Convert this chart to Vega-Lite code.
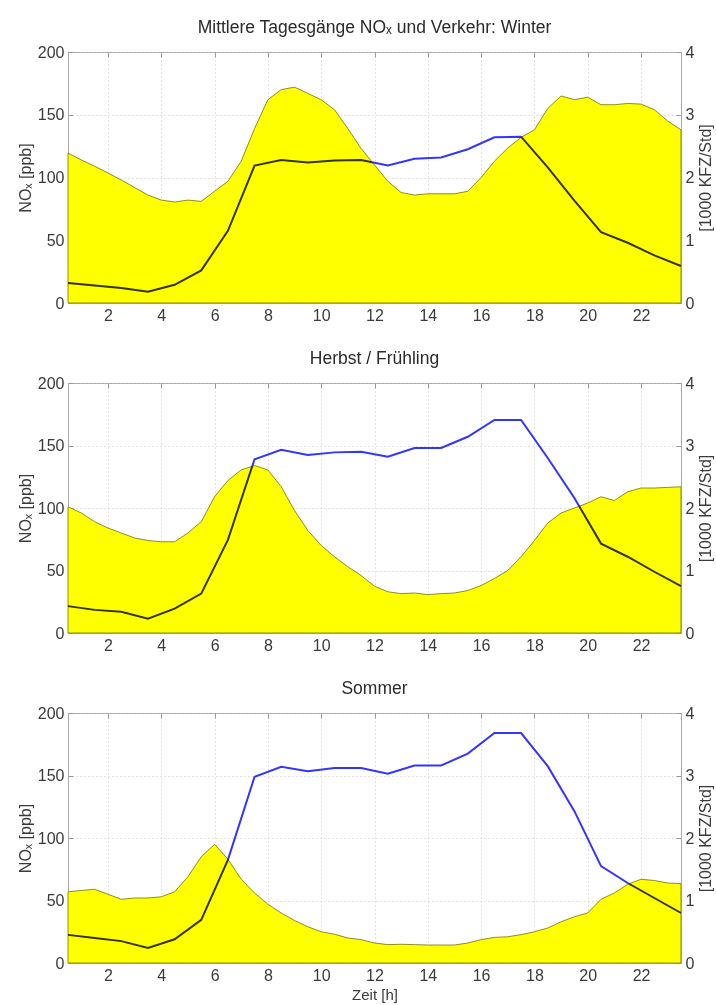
{
"$schema": "https://vega.github.io/schema/vega-lite/v6.json",
"background": "white",
"padding": {"left": 16, "top": 18, "right": 0, "bottom": 0},
"spacing": 25,
"config": {
  "font": "Liberation Sans",
  "view": {"stroke": "#a8a8a8", "strokeWidth": 1},
  "axis": {"labelFont": "Liberation Sans", "labelFontSize": 16, "labelColor": "#3a3a3a", "titleFont": "Liberation Sans", "titleFontSize": 16, "titleFontWeight": "normal", "titleColor": "#3a3a3a", "domainColor": "#a8a8a8", "tickColor": "#999999", "gridColor": "#c4c4c4", "gridDash": [1, 3], "gridWidth": 1, "tickSize": -5, "labelPadding": 9},
  "title": {"font": "Liberation Sans", "fontSize": 17.5, "fontWeight": "normal", "color": "#2a2a2a", "offset": 8}
},
"datasets": {
  "nox": [
    {"s":"W","h":0.5,"v":119.5},{"s":"W","h":1,"v":114},{"s":"W","h":1.5,"v":109},{"s":"W","h":2,"v":103.6},{"s":"W","h":2.5,"v":98},{"s":"W","h":3,"v":92},{"s":"W","h":3.5,"v":86},{"s":"W","h":4,"v":82},{"s":"W","h":4.5,"v":80.5},{"s":"W","h":5,"v":82},{"s":"W","h":5.5,"v":81},{"s":"W","h":6,"v":89},{"s":"W","h":6.5,"v":97},{"s":"W","h":7,"v":113},{"s":"W","h":7.5,"v":139},{"s":"W","h":8,"v":162},{"s":"W","h":8.5,"v":170},{"s":"W","h":9,"v":172},{"s":"W","h":9.5,"v":167},{"s":"W","h":10,"v":162},{"s":"W","h":10.5,"v":154},{"s":"W","h":11,"v":139},{"s":"W","h":11.5,"v":123},{"s":"W","h":12,"v":110},{"s":"W","h":12.5,"v":97},{"s":"W","h":13,"v":88},{"s":"W","h":13.5,"v":86},{"s":"W","h":14,"v":87},{"s":"W","h":14.5,"v":87},{"s":"W","h":15,"v":87},{"s":"W","h":15.5,"v":89},{"s":"W","h":16,"v":100},{"s":"W","h":16.5,"v":113},{"s":"W","h":17,"v":123.5},{"s":"W","h":17.5,"v":132},{"s":"W","h":18,"v":138},{"s":"W","h":18.5,"v":155},{"s":"W","h":19,"v":165},{"s":"W","h":19.5,"v":162},{"s":"W","h":20,"v":164},{"s":"W","h":20.5,"v":158},{"s":"W","h":21,"v":158},{"s":"W","h":21.5,"v":159},{"s":"W","h":22,"v":158.5},{"s":"W","h":22.5,"v":154},{"s":"W","h":23,"v":145},{"s":"W","h":23.5,"v":138},
    {"s":"H","h":0.5,"v":101},{"s":"H","h":1,"v":96},{"s":"H","h":1.5,"v":89},{"s":"H","h":2,"v":84},{"s":"H","h":2.5,"v":80},{"s":"H","h":3,"v":76},{"s":"H","h":3.5,"v":74},{"s":"H","h":4,"v":73},{"s":"H","h":4.5,"v":73},{"s":"H","h":5,"v":80},{"s":"H","h":5.5,"v":89},{"s":"H","h":6,"v":109},{"s":"H","h":6.5,"v":122},{"s":"H","h":7,"v":130.5},{"s":"H","h":7.5,"v":134},{"s":"H","h":8,"v":130.5},{"s":"H","h":8.5,"v":117},{"s":"H","h":9,"v":98},{"s":"H","h":9.5,"v":82},{"s":"H","h":10,"v":70},{"s":"H","h":10.5,"v":61},{"s":"H","h":11,"v":53},{"s":"H","h":11.5,"v":46},{"s":"H","h":12,"v":37.4},{"s":"H","h":12.5,"v":33},{"s":"H","h":13,"v":31.5},{"s":"H","h":13.5,"v":32},{"s":"H","h":14,"v":30.7},{"s":"H","h":14.5,"v":31.5},{"s":"H","h":15,"v":32},{"s":"H","h":15.5,"v":34},{"s":"H","h":16,"v":38},{"s":"H","h":16.5,"v":43.6},{"s":"H","h":17,"v":50},{"s":"H","h":17.5,"v":61},{"s":"H","h":18,"v":74},{"s":"H","h":18.5,"v":88},{"s":"H","h":19,"v":96},{"s":"H","h":19.5,"v":100},{"s":"H","h":20,"v":104},{"s":"H","h":20.5,"v":109},{"s":"H","h":21,"v":106},{"s":"H","h":21.5,"v":113},{"s":"H","h":22,"v":116},{"s":"H","h":22.5,"v":116},{"s":"H","h":23,"v":116.5},{"s":"H","h":23.5,"v":117},
    {"s":"S","h":0.5,"v":57},{"s":"S","h":1,"v":58},{"s":"S","h":1.5,"v":59},{"s":"S","h":2,"v":55},{"s":"S","h":2.5,"v":51},{"s":"S","h":3,"v":52},{"s":"S","h":3.5,"v":52},{"s":"S","h":4,"v":53},{"s":"S","h":4.5,"v":57},{"s":"S","h":5,"v":69},{"s":"S","h":5.5,"v":85},{"s":"S","h":6,"v":95},{"s":"S","h":6.5,"v":83},{"s":"S","h":7,"v":67},{"s":"S","h":7.5,"v":56},{"s":"S","h":8,"v":47},{"s":"S","h":8.5,"v":40},{"s":"S","h":9,"v":34},{"s":"S","h":9.5,"v":29},{"s":"S","h":10,"v":25},{"s":"S","h":10.5,"v":23},{"s":"S","h":11,"v":20},{"s":"S","h":11.5,"v":18.7},{"s":"S","h":12,"v":16},{"s":"S","h":12.5,"v":14.7},{"s":"S","h":13,"v":15},{"s":"S","h":13.5,"v":14.7},{"s":"S","h":14,"v":14.4},{"s":"S","h":14.5,"v":14.4},{"s":"S","h":15,"v":14.4},{"s":"S","h":15.5,"v":16},{"s":"S","h":16,"v":18.7},{"s":"S","h":16.5,"v":20.5},{"s":"S","h":17,"v":21},{"s":"S","h":17.5,"v":22.7},{"s":"S","h":18,"v":25},{"s":"S","h":18.5,"v":28},{"s":"S","h":19,"v":33},{"s":"S","h":19.5,"v":37},{"s":"S","h":20,"v":40},{"s":"S","h":20.5,"v":51},{"s":"S","h":21,"v":56},{"s":"S","h":21.5,"v":63},{"s":"S","h":22,"v":67},{"s":"S","h":22.5,"v":66},{"s":"S","h":23,"v":64},{"s":"S","h":23.5,"v":63.5}
  ],
  "kfz": [
    {"s":"W","h":0.5,"k":0.32},{"s":"W","h":1.5,"k":0.28},{"s":"W","h":2.5,"k":0.24},{"s":"W","h":3.5,"k":0.18},{"s":"W","h":4.5,"k":0.29},{"s":"W","h":5.5,"k":0.52},{"s":"W","h":6.5,"k":1.15},{"s":"W","h":7.5,"k":2.19},{"s":"W","h":8.5,"k":2.28},{"s":"W","h":9.5,"k":2.24},{"s":"W","h":10.5,"k":2.27},{"s":"W","h":11.5,"k":2.28},{"s":"W","h":12.5,"k":2.19},{"s":"W","h":13.5,"k":2.3},{"s":"W","h":14.5,"k":2.32},{"s":"W","h":15.5,"k":2.45},{"s":"W","h":16.5,"k":2.64},{"s":"W","h":17.5,"k":2.65},{"s":"W","h":18.5,"k":2.16},{"s":"W","h":19.5,"k":1.63},{"s":"W","h":20.5,"k":1.13},{"s":"W","h":21.5,"k":0.96},{"s":"W","h":22.5,"k":0.76},{"s":"W","h":23.5,"k":0.59},
    {"s":"H","h":0.5,"k":0.43},{"s":"H","h":1.5,"k":0.37},{"s":"H","h":2.5,"k":0.34},{"s":"H","h":3.5,"k":0.23},{"s":"H","h":4.5,"k":0.39},{"s":"H","h":5.5,"k":0.63},{"s":"H","h":6.5,"k":1.49},{"s":"H","h":7.5,"k":2.78},{"s":"H","h":8.5,"k":2.93},{"s":"H","h":9.5,"k":2.85},{"s":"H","h":10.5,"k":2.89},{"s":"H","h":11.5,"k":2.9},{"s":"H","h":12.5,"k":2.82},{"s":"H","h":13.5,"k":2.96},{"s":"H","h":14.5,"k":2.96},{"s":"H","h":15.5,"k":3.14},{"s":"H","h":16.5,"k":3.41},{"s":"H","h":17.5,"k":3.41},{"s":"H","h":18.5,"k":2.8},{"s":"H","h":19.5,"k":2.16},{"s":"H","h":20.5,"k":1.43},{"s":"H","h":21.5,"k":1.22},{"s":"H","h":22.5,"k":0.98},{"s":"H","h":23.5,"k":0.75},
    {"s":"S","h":0.5,"k":0.45},{"s":"S","h":1.5,"k":0.4},{"s":"S","h":2.5,"k":0.35},{"s":"S","h":3.5,"k":0.24},{"s":"S","h":4.5,"k":0.38},{"s":"S","h":5.5,"k":0.69},{"s":"S","h":6.5,"k":1.65},{"s":"S","h":7.5,"k":2.98},{"s":"S","h":8.5,"k":3.14},{"s":"S","h":9.5,"k":3.07},{"s":"S","h":10.5,"k":3.12},{"s":"S","h":11.5,"k":3.12},{"s":"S","h":12.5,"k":3.03},{"s":"S","h":13.5,"k":3.16},{"s":"S","h":14.5,"k":3.16},{"s":"S","h":15.5,"k":3.35},{"s":"S","h":16.5,"k":3.68},{"s":"S","h":17.5,"k":3.68},{"s":"S","h":18.5,"k":3.15},{"s":"S","h":19.5,"k":2.43},{"s":"S","h":20.5,"k":1.55},{"s":"S","h":21.5,"k":1.28},{"s":"S","h":22.5,"k":1.04},{"s":"S","h":23.5,"k":0.8}
  ]
},
"vconcat": [
  {
    "width": 613, "height": 251,
    "title": {"text": "Mittlere Tagesgänge NOₓ und Verkehr: Winter"},
    "layer": [
      {"data": {"name": "nox"}, "transform": [{"filter": "datum.s == 'W'"}],
       "mark": {"type": "area", "color": "#ffff00", "stroke": "#8e8e4a", "strokeWidth": 1, "opacity": 1},
       "encoding": {
         "x": {"field": "h", "type": "quantitative", "scale": {"domain": [0.5, 23.5], "nice": false}, "axis": {"values": [2,4,6,8,10,12,14,16,18,20,22], "title": null}},
         "y": {"field": "v", "type": "quantitative", "scale": {"domain": [0, 200], "nice": false}, "axis": {"values": [0,50,100,150,200], "title": "NOₓ [ppb]", "titlePadding": 4}}}},
      {"data": {"name": "kfz"}, "transform": [{"filter": "datum.s == 'W'"}],
       "mark": {"type": "line", "color": "#3434ff", "strokeWidth": 2},
       "encoding": {
         "x": {"field": "h", "type": "quantitative", "scale": {"domain": [0.5, 23.5], "nice": false}, "axis": null},
         "y": {"field": "k", "type": "quantitative", "scale": {"domain": [0, 4], "nice": false}, "axis": {"orient": "right", "values": [0,1,2,3,4], "grid": false, "title": "[1000  KFZ/Std]", "titleAngle": 270, "titleBaseline": "top", "titlePadding": 4}}}},
      {"data": {"name": "nox"}, "transform": [{"filter": "datum.s == 'W'"}],
       "mark": {"type": "area", "color": "#ffff00", "blend": "multiply"},
       "encoding": {
         "x": {"field": "h", "type": "quantitative", "scale": {"domain": [0.5, 23.5], "nice": false}, "axis": {"orient": "top", "values": [2,4,6,8,10,12,14,16,18,20,22], "labels": false, "grid": false, "domain": false, "title": null}},
         "y": {"field": "v", "type": "quantitative", "scale": {"domain": [0, 200], "nice": false}, "axis": null}}}
    ],
    "resolve": {"scale": {"y": "independent", "x": "independent"}}
  },
  {
    "width": 613, "height": 250,
    "title": {"text": "Herbst / Frühling"},
    "layer": [
      {"data": {"name": "nox"}, "transform": [{"filter": "datum.s == 'H'"}],
       "mark": {"type": "area", "color": "#ffff00", "stroke": "#8e8e4a", "strokeWidth": 1, "opacity": 1},
       "encoding": {
         "x": {"field": "h", "type": "quantitative", "scale": {"domain": [0.5, 23.5], "nice": false}, "axis": {"values": [2,4,6,8,10,12,14,16,18,20,22], "title": null}},
         "y": {"field": "v", "type": "quantitative", "scale": {"domain": [0, 200], "nice": false}, "axis": {"values": [0,50,100,150,200], "title": "NOₓ [ppb]", "titlePadding": 4}}}},
      {"data": {"name": "kfz"}, "transform": [{"filter": "datum.s == 'H'"}],
       "mark": {"type": "line", "color": "#3434ff", "strokeWidth": 2},
       "encoding": {
         "x": {"field": "h", "type": "quantitative", "scale": {"domain": [0.5, 23.5], "nice": false}, "axis": null},
         "y": {"field": "k", "type": "quantitative", "scale": {"domain": [0, 4], "nice": false}, "axis": {"orient": "right", "values": [0,1,2,3,4], "grid": false, "title": "[1000  KFZ/Std]", "titleAngle": 270, "titleBaseline": "top", "titlePadding": 4}}}},
      {"data": {"name": "nox"}, "transform": [{"filter": "datum.s == 'H'"}],
       "mark": {"type": "area", "color": "#ffff00", "blend": "multiply"},
       "encoding": {
         "x": {"field": "h", "type": "quantitative", "scale": {"domain": [0.5, 23.5], "nice": false}, "axis": {"orient": "top", "values": [2,4,6,8,10,12,14,16,18,20,22], "labels": false, "grid": false, "domain": false, "title": null}},
         "y": {"field": "v", "type": "quantitative", "scale": {"domain": [0, 200], "nice": false}, "axis": null}}}
    ],
    "resolve": {"scale": {"y": "independent", "x": "independent"}}
  },
  {
    "width": 613, "height": 250,
    "title": {"text": "Sommer"},
    "layer": [
      {"data": {"name": "nox"}, "transform": [{"filter": "datum.s == 'S'"}],
       "mark": {"type": "area", "color": "#ffff00", "stroke": "#8e8e4a", "strokeWidth": 1, "opacity": 1},
       "encoding": {
         "x": {"field": "h", "type": "quantitative", "scale": {"domain": [0.5, 23.5], "nice": false}, "axis": {"values": [2,4,6,8,10,12,14,16,18,20,22], "title": "Zeit [h]", "titlePadding": 4, "titleFontSize": 15, "labelPadding": 9}},
         "y": {"field": "v", "type": "quantitative", "scale": {"domain": [0, 200], "nice": false}, "axis": {"values": [0,50,100,150,200], "title": "NOₓ [ppb]", "titlePadding": 4}}}},
      {"data": {"name": "kfz"}, "transform": [{"filter": "datum.s == 'S'"}],
       "mark": {"type": "line", "color": "#3434ff", "strokeWidth": 2},
       "encoding": {
         "x": {"field": "h", "type": "quantitative", "scale": {"domain": [0.5, 23.5], "nice": false}, "axis": null},
         "y": {"field": "k", "type": "quantitative", "scale": {"domain": [0, 4], "nice": false}, "axis": {"orient": "right", "values": [0,1,2,3,4], "grid": false, "title": "[1000  KFZ/Std]", "titleAngle": 270, "titleBaseline": "top", "titlePadding": 4}}}},
      {"data": {"name": "nox"}, "transform": [{"filter": "datum.s == 'S'"}],
       "mark": {"type": "area", "color": "#ffff00", "blend": "multiply"},
       "encoding": {
         "x": {"field": "h", "type": "quantitative", "scale": {"domain": [0.5, 23.5], "nice": false}, "axis": {"orient": "top", "values": [2,4,6,8,10,12,14,16,18,20,22], "labels": false, "grid": false, "domain": false, "title": null}},
         "y": {"field": "v", "type": "quantitative", "scale": {"domain": [0, 200], "nice": false}, "axis": null}}}
    ],
    "resolve": {"scale": {"y": "independent", "x": "independent"}}
  }
]
}
